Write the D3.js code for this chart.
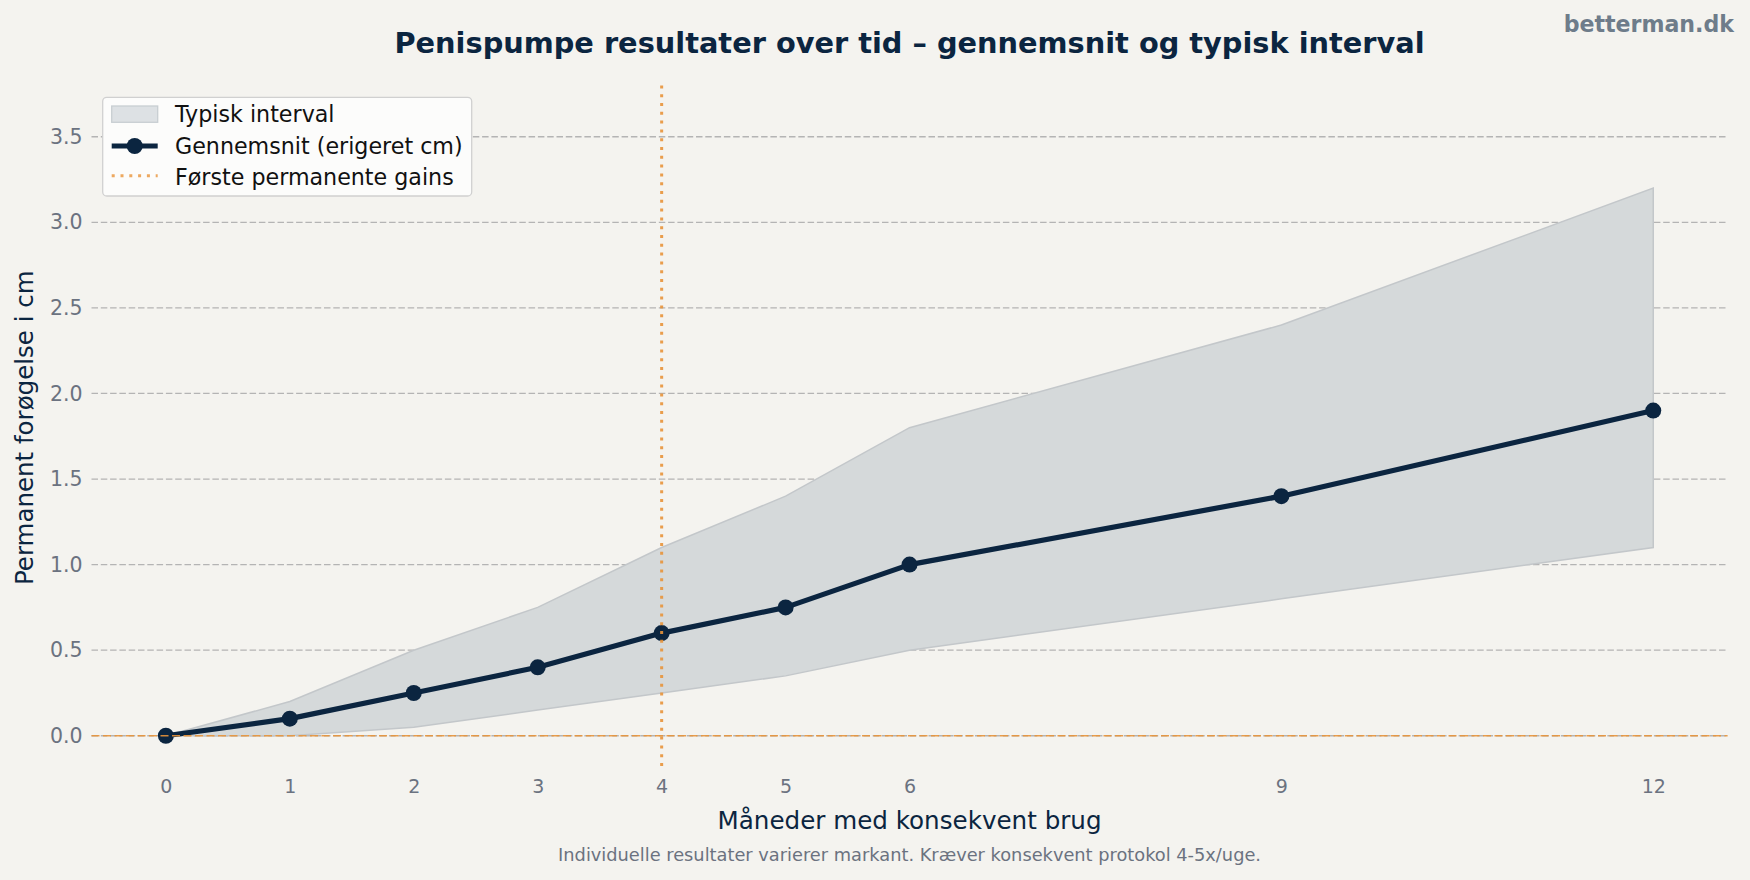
<!DOCTYPE html>
<html>
<head>
<meta charset="utf-8">
<script src="https://cdn.jsdelivr.net/npm/d3@7"></script>
<style>
  html, body { margin: 0; padding: 0; background: #f4f3ef; }
  svg { display: block; font-family: "DejaVu Sans", sans-serif; }
</style>
</head>
<body>
<div id="chart"><svg></svg></div>
<script>
// data
const months = [0, 1, 2, 3, 4, 5, 6, 9, 12]
const meanGain = [0, 0.1, 0.25, 0.4, 0.6, 0.75, 1.0, 1.4, 1.9]
const lowGain = [0, 0, 0.05, 0.15, 0.25, 0.35, 0.5, 0.8, 1.1]
const highGain = [0, 0.2, 0.5, 0.75, 1.1, 1.4, 1.8, 2.4, 3.2]
const yTicks = [0, 0.5, 1.0, 1.5, 2.0, 2.5, 3.0, 3.5]
const firstGainMonth = 4
const legendLabels = ['Typisk interval', 'Gennemsnit (erigeret cm)', 'Første permanente gains']

const width = 1750
const height = 880
const navy = '#0b2540'
const orange = '#e8943a'
const plot = { left: 91.5, right: 1727.6, top: 85.4, bottom: 770 }

const svg = d3.select('#chart').select('svg')
  .attr('width', width)
  .attr('height', height)

svg.append('rect')
  .attr('width', width)
  .attr('height', height)
  .attr('fill', '#f4f3ef')

const x = d3.scaleLinear().domain([-0.6, 12.6]).range([plot.left, plot.right])
const y = d3.scaleLinear().domain([-0.2, 3.8]).range([plot.bottom, plot.top])

const rows = months.map((m, i) => ({ m, mean: meanGain[i], lo: lowGain[i], hi: highGain[i] }))

// horizontal grid
svg.append('g')
  .selectAll('line')
  .data(yTicks)
  .enter()
  .append('line')
  .attr('x1', plot.left)
  .attr('x2', plot.right)
  .attr('y1', d => y(d))
  .attr('y2', d => y(d))
  .attr('stroke', '#b4b4b4')
  .attr('stroke-width', 1.3)
  .attr('stroke-dasharray', '6.5,2.8')

// y axis (labels only)
const yAxis = svg.append('g')
  .attr('transform', `translate(${plot.left},0)`)
  .call(d3.axisLeft(y).tickValues(yTicks).tickFormat(d3.format('.1f')).tickSize(0).tickPadding(9))
yAxis.select('.domain').remove()
yAxis.selectAll('text')
  .attr('font-family', '"DejaVu Sans", sans-serif')
  .attr('font-size', 20.5)
  .attr('fill', '#6b7280')

// x axis (labels only)
const xAxis = svg.append('g')
  .attr('transform', `translate(0,${plot.bottom})`)
  .call(d3.axisBottom(x).tickValues(months).tickFormat(d3.format('d')).tickSize(0).tickPadding(10))
xAxis.select('.domain').remove()
xAxis.selectAll('text')
  .attr('font-family', '"DejaVu Sans", sans-serif')
  .attr('font-size', 19)
  .attr('fill', '#6b7280')

// typical band
const band = d3.area()
  .x(d => x(d.m))
  .y0(d => y(d.lo))
  .y1(d => y(d.hi))

svg.append('path')
  .datum(rows)
  .attr('d', band)
  .attr('fill', '#d5d9da')
  .attr('stroke', '#c3c7ca')
  .attr('stroke-width', 1.5)

// mean line + markers
const line = d3.line()
  .x(d => x(d.m))
  .y(d => y(d.mean))

svg.append('path')
  .datum(rows)
  .attr('d', line)
  .attr('fill', 'none')
  .attr('stroke', navy)
  .attr('stroke-width', 5.2)
  .attr('stroke-linejoin', 'round')

svg.append('g')
  .selectAll('circle')
  .data(rows)
  .enter()
  .append('circle')
  .attr('cx', d => x(d.m))
  .attr('cy', d => y(d.mean))
  .attr('r', 8)
  .attr('fill', navy)

// zero line and first gains marker
svg.append('line')
  .attr('x1', plot.left)
  .attr('x2', plot.right)
  .attr('y1', y(0))
  .attr('y2', y(0))
  .attr('stroke', orange)
  .attr('stroke-width', 1.6)
  .attr('stroke-opacity', 0.9)
  .attr('stroke-dasharray', '8,3.5')

svg.append('line')
  .attr('x1', x(firstGainMonth))
  .attr('x2', x(firstGainMonth))
  .attr('y1', plot.top)
  .attr('y2', plot.bottom)
  .attr('stroke', orange)
  .attr('stroke-width', 3)
  .attr('stroke-opacity', 0.9)
  .attr('stroke-dasharray', '3,5.8')

// legend
const lg = svg.append('g').attr('transform', 'translate(102.7,97.3)')
lg.append('rect')
  .attr('width', 369)
  .attr('height', 98.7)
  .attr('rx', 4)
  .attr('fill', '#fcfcfb')
  .attr('stroke', '#d0d0d0')
  .attr('stroke-width', 1.3)

lg.append('rect')
  .attr('x', 9).attr('y', 8.7)
  .attr('width', 46).attr('height', 16.3)
  .attr('fill', '#dde1e4')
  .attr('stroke', '#c8ced2')
  .attr('stroke-width', 1.3)

lg.append('line')
  .attr('x1', 9).attr('x2', 55)
  .attr('y1', 48.7).attr('y2', 48.7)
  .attr('stroke', navy)
  .attr('stroke-width', 5.2)
lg.append('circle')
  .attr('cx', 32).attr('cy', 48.7).attr('r', 8)
  .attr('fill', navy)

lg.append('line')
  .attr('x1', 9).attr('x2', 55)
  .attr('y1', 78.4).attr('y2', 78.4)
  .attr('stroke', orange)
  .attr('stroke-width', 3)
  .attr('stroke-opacity', 0.8)
  .attr('stroke-dasharray', '3,5.8')

lg.selectAll('.lt')
  .data(legendLabels)
  .enter()
  .append('text')
  .attr('class', 'lt')
  .attr('x', 72.3)
  .attr('y', (d, i) => 25 + i * 31.5)
  .attr('font-size', 22.2)
  .attr('fill', '#111111')
  .text(d => d)

// titles
svg.append('text')
  .attr('x', (plot.left + plot.right) / 2)
  .attr('y', 53)
  .attr('text-anchor', 'middle')
  .attr('font-size', 28.8)
  .attr('font-weight', 'bold')
  .attr('fill', navy)
  .text('Penispumpe resultater over tid – gennemsnit og typisk interval')

svg.append('text')
  .attr('x', 1734)
  .attr('y', 32)
  .attr('text-anchor', 'end')
  .attr('font-size', 22.1)
  .attr('font-weight', 'bold')
  .attr('fill', '#6e7c8a')
  .text('betterman.dk')

svg.append('text')
  .attr('transform', `translate(33,${(plot.top + plot.bottom) / 2}) rotate(-90)`)
  .attr('text-anchor', 'middle')
  .attr('font-size', 24.5)
  .attr('fill', navy)
  .text('Permanent forøgelse i cm')

svg.append('text')
  .attr('x', (plot.left + plot.right) / 2)
  .attr('y', 829)
  .attr('text-anchor', 'middle')
  .attr('font-size', 24.6)
  .attr('fill', navy)
  .text('Måneder med konsekvent brug')

svg.append('text')
  .attr('x', (plot.left + plot.right) / 2)
  .attr('y', 861)
  .attr('text-anchor', 'middle')
  .attr('font-size', 17.8)
  .attr('fill', '#6b7280')
  .text('Individuelle resultater varierer markant. Kræver konsekvent protokol 4-5x/uge.')
</script>
</body>
</html>
